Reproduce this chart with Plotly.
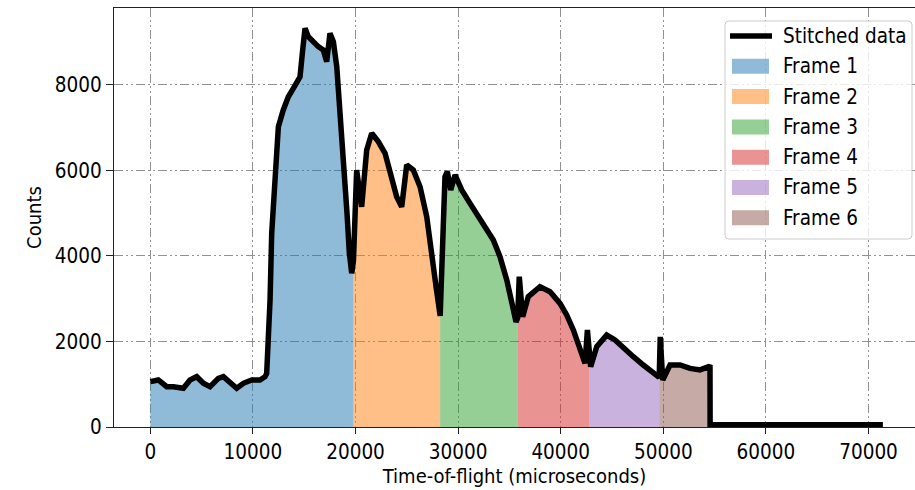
import plotly.graph_objects as go

# Stitched time-of-flight spectrum (microseconds, counts)
tof = [
    0, 780, 1600, 2240, 3220, 3870, 4520, 5170, 5820, 6630, 7120, 7770, 8420,
    9070, 9880, 10690, 11180, 11340, 11670, 11830, 12150, 12480, 12960, 13450,
    13940, 14590, 14850, 15080, 15400, 15890, 16370, 16860, 17190, 17510,
    17840, 18170, 18490, 18810, 19170, 19400, 19630, 19800,
    19950, 20110, 20600, 21090, 21580, 22220, 22880, 23530, 24010, 24500,
    24990, 25630, 26290, 26940, 27430, 27850, 28250,
    28450, 28720, 28950, 29280, 29700, 30350, 31160, 31970, 32790, 33430,
    34080, 34740, 35320, 35640, 35800,
    35960, 36290, 36840, 37980, 38960, 39930, 40580, 41230, 41880, 42370,
    42600, 42800,
    42920, 43510, 44480, 45290, 46100, 47080, 48050, 49030, 49510, 49600,
    49700, 49940, 50650, 51630, 52600, 53580, 54410, 54550,
    54560, 60000, 66000, 71400,
]
counts = [
    1060, 1100, 943, 943, 905, 1100, 1177, 1022, 943, 1139, 1177, 1022, 905,
    1022, 1100, 1100, 1177, 1250, 2970, 4530, 5940, 7025, 7415, 7725,
    7920, 8190, 8820, 9325, 9130, 9010, 8895, 8820, 8545, 9210,
    9010, 8430, 7415, 6245, 5000, 4060, 3595, 3900,
    4920, 6010, 5150, 6480, 6870, 6675, 6400, 5780, 5385, 5150,
    6130, 6010, 5620, 4920, 4140, 3280, 2600,
    4530, 5855, 5970, 5545, 5895, 5545, 5230, 4920, 4610, 4375,
    3985, 3440, 2815, 2460, 2550,
    3515, 2580, 3050, 3280, 3165, 2890, 2620, 2270, 1800, 1490,
    2270, 1450,
    1410, 1880, 2150, 2035, 1840, 1645, 1450, 1255, 1175, 1160,
    2110, 1100, 1450, 1450, 1370, 1335, 1410, 1400,
    50, 50, 50, 50,
]

# Frame windows (start, end) in microseconds
frame_names = ["Frame 1", "Frame 2", "Frame 3", "Frame 4", "Frame 5", "Frame 6"]
frame_start = [0, 19800, 28250, 35800, 42800, 49600]
frame_end = [19800, 28250, 35800, 42800, 49600, 54550]
frame_colors = [
    "rgba(31,119,180,0.5)", "rgba(255,127,14,0.5)", "rgba(44,160,44,0.5)",
    "rgba(214,39,40,0.5)", "rgba(148,103,189,0.5)", "rgba(140,86,75,0.5)",
]

x_ticks = [0, 10000, 20000, 30000, 40000, 50000, 60000, 70000]
y_ticks = [0, 2000, 4000, 6000, 8000]

FONT = "DejaVu Sans Condensed, DejaVu Sans, sans-serif"
FS = 20.5
W, H = 915, 490
L, R, T, B = 114, 915, 8, 427  # plot area in pixels

fig = go.Figure()

for name, s, e, c in zip(frame_names, frame_start, frame_end, frame_colors):
    xs = [x for x in tof if s <= x <= e]
    ys = [y for x, y in zip(tof, counts) if s <= x <= e]
    fig.add_trace(go.Scatter(
        x=xs, y=ys, mode="lines", fill="tozeroy", fillcolor=c,
        line=dict(width=0, color=c), name=name, hoverinfo="skip",
    ))

fig.add_trace(go.Scatter(
    x=tof, y=counts, mode="lines", name="Stitched data",
    line=dict(color="black", width=5.5),
))


def px_x(p):
    return (p - L) / (R - L)


def px_y(p):
    return (B - p) / (B - T)


# Legend drawn as a boxed key in the upper right
shapes = []
annotations = []
bx0, bx1, by0, by1, rad = 725, 912, 21, 239, 4
path = (
    f"M {px_x(bx0 + rad)},{px_y(by0)} L {px_x(bx1 - rad)},{px_y(by0)} "
    f"Q {px_x(bx1)},{px_y(by0)} {px_x(bx1)},{px_y(by0 + rad)} "
    f"L {px_x(bx1)},{px_y(by1 - rad)} "
    f"Q {px_x(bx1)},{px_y(by1)} {px_x(bx1 - rad)},{px_y(by1)} "
    f"L {px_x(bx0 + rad)},{px_y(by1)} "
    f"Q {px_x(bx0)},{px_y(by1)} {px_x(bx0)},{px_y(by1 - rad)} "
    f"L {px_x(bx0)},{px_y(by0 + rad)} "
    f"Q {px_x(bx0)},{px_y(by0)} {px_x(bx0 + rad)},{px_y(by0)} Z"
)
shapes.append(dict(type="path", xref="paper", yref="paper", path=path,
                   fillcolor="rgba(255,255,255,0.8)",
                   line=dict(color="rgb(204,204,204)", width=1), layer="above"))

row_y = [36 + 30.3 * i for i in range(7)]
labels = ["Stitched data"] + frame_names
shapes.append(dict(type="line", xref="paper", yref="paper",
                   x0=px_x(730), x1=px_x(772), y0=px_y(row_y[0]), y1=px_y(row_y[0]),
                   line=dict(color="black", width=5.5), layer="above"))
for i, c in enumerate(frame_colors):
    yc = row_y[i + 1]
    shapes.append(dict(type="rect", xref="paper", yref="paper",
                       x0=px_x(732), x1=px_x(769), y0=px_y(yc - 7.5), y1=px_y(yc + 7.5),
                       fillcolor=c, line=dict(width=0), layer="above"))
for lab, yc in zip(labels, row_y):
    annotations.append(dict(text=lab, xref="paper", yref="paper",
                            x=px_x(781), y=px_y(yc), xanchor="left", yanchor="middle",
                            showarrow=False, font=dict(family=FONT, size=FS, color="black")))

grid_dash = "9px,3px,2px,3px,2px,3px"

fig.update_layout(
    width=W, height=H,
    margin=dict(l=L, r=W - R, t=T, b=H - B),
    plot_bgcolor="white", paper_bgcolor="white",
    showlegend=False,
    font=dict(family=FONT, size=FS, color="black"),
    shapes=shapes, annotations=annotations,
)
fig.update_xaxes(
    range=[-3540, 74530], tickvals=x_ticks, ticktext=[str(v) for v in x_ticks],
    tickfont=dict(size=FS),
    showline=True, linecolor="#222", linewidth=1.3, mirror=True,
    ticks="outside", ticklen=6, tickcolor="#222", tickwidth=1.2,
    showgrid=True, gridcolor="rgb(145,145,145)", gridwidth=1, griddash=grid_dash,
    zeroline=False,
    title=dict(text="Time-of-flight (microseconds)", standoff=6,
               font=dict(size=20, family=FONT)),
)
fig.update_yaxes(
    range=[0, 9800], tickvals=y_ticks, ticktext=[str(v) for v in y_ticks],
    tickfont=dict(size=FS),
    showline=True, linecolor="#222", linewidth=1.3, mirror=False,
    ticks="outside", ticklen=7, tickcolor="#222", tickwidth=1.2,
    showgrid=True, gridcolor="rgb(145,145,145)", gridwidth=1, griddash=grid_dash,
    zeroline=False,
    title=dict(text="Counts", standoff=7, font=dict(size=20, family=FONT)),
)

fig.write_html("out.html")
